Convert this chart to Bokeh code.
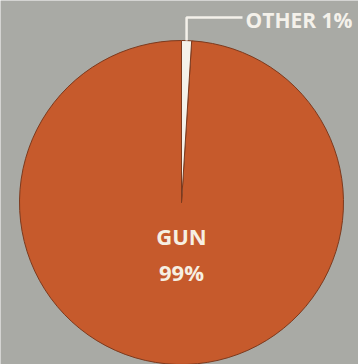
import math
from bokeh.plotting import figure
from bokeh.models import Range1d, ColumnDataSource
from bokeh.core.properties import value
from bokeh.embed import file_html
from bokeh.resources import INLINE

categories = ["GUN", "OTHER"]
shares = [99, 1]
labels = ["GUN\n99%", "OTHER 1%"]
colors = ["#c65a2c", "#f4f1ea"]

W, H = 358, 364
cx, cy, r = 181, 162, 162

# compute wedge angles: OTHER starts at 12 o'clock going clockwise, GUN fills the rest
total = sum(shares)
other_span = shares[1] / total * 2 * math.pi
gun_span = shares[0] / total * 2 * math.pi
top = math.pi / 2
starts = [top, top - other_span]
ends = [top + gun_span, top]

src = ColumnDataSource(dict(cat=categories, start=starts, end=ends, color=colors))

p = figure(width=W, height=H, x_range=Range1d(0, W), y_range=Range1d(0, H),
           output_backend="svg", toolbar_location=None, min_border=0)
p.axis.visible = False
p.grid.visible = False
p.outline_line_color = None
p.background_fill_color = "#a9aaa5"
p.border_fill_color = "#a9aaa5"

p.wedge(x=cx, y=cy, radius=r, start_angle="start", end_angle="end",
        fill_color="color", line_color="#7c3a1e", line_width=1, source=src)

# leader line for OTHER
tip_ang = top - other_span / 2
lx = cx + r * math.cos(tip_ang)
p.line(x=[lx, lx, 242], y=[cy + r, 347, 347], line_color="#f4f1ea", line_width=2.5)

p.text(x=[245], y=[345], text=[labels[1]], text_font=value("Open Sans"),
       text_font_style="bold", text_font_size="21px", text_color="#f4f1ea",
       text_align="left", text_baseline="middle")

p.text(x=[cx, cx], y=[129, 93], text=["GUN", f"{shares[0]}%"], text_font=value("Open Sans"),
       text_font_style="bold", text_font_size="22px", text_color="#f6efe2",
       text_align="center", text_baseline="middle")

open("out.html", "w").write(file_html(p, INLINE))
